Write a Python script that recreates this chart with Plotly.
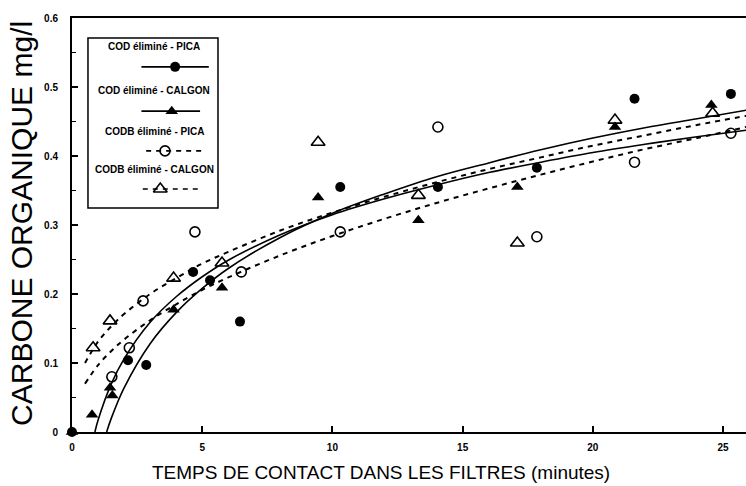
import plotly.graph_objects as go

# ---------------- data ----------------
# measured points
cod_pica_x = [0, 2.15, 2.85, 4.65, 5.3, 6.45, 10.3, 14.05, 17.85, 21.6, 25.3]
cod_pica_y = [0, 0.104, 0.097, 0.232, 0.22, 0.16, 0.355, 0.355, 0.383, 0.483, 0.49]

cod_calgon_x = [0, 0.77, 1.46, 1.55, 3.9, 5.76, 9.45, 13.3, 17.1, 20.85, 24.55]
cod_calgon_y = [0, 0.025, 0.064, 0.053, 0.177, 0.209, 0.34, 0.307, 0.355, 0.442, 0.474]

codb_pica_x = [1.53, 2.2, 2.73, 4.72, 6.5, 10.3, 14.05, 17.85, 21.6, 25.3]
codb_pica_y = [0.08, 0.122, 0.19, 0.29, 0.232, 0.29, 0.442, 0.283, 0.391, 0.433]

codb_calgon_x = [0.81, 1.46, 3.9, 5.76, 9.45, 13.3, 17.1, 20.85, 24.6]
codb_calgon_y = [0.122, 0.161, 0.223, 0.245, 0.42, 0.343, 0.274, 0.452, 0.462]

# fitted curves at sample abscissae
fit_pica_x = [1.33, 1.5, 2, 3, 4, 5, 6, 8, 10, 12, 14, 16, 18, 20, 22, 24, 26]
fit_pica_y = [0, 0.019, 0.064, 0.128, 0.173, 0.208, 0.237, 0.282, 0.317, 0.345,
              0.370, 0.390, 0.409, 0.426, 0.441, 0.454, 0.467]

fit_calgon_x = [0.88, 1, 1.5, 2, 3, 4, 5, 6, 8, 10, 12, 14, 16, 18, 20, 22, 24, 26]
fit_calgon_y = [0, 0.017, 0.069, 0.106, 0.159, 0.196, 0.225, 0.249, 0.286, 0.315,
                0.338, 0.358, 0.376, 0.391, 0.405, 0.417, 0.428, 0.438]

fitb_pica_x = [0.5, 1, 1.5, 2, 3, 4, 5, 6, 8, 10, 12, 14, 16, 18, 20, 22, 24, 26]
fitb_pica_y = [0.070, 0.097, 0.117, 0.134, 0.162, 0.185, 0.206, 0.224, 0.256, 0.284,
               0.309, 0.332, 0.353, 0.373, 0.392, 0.410, 0.426, 0.443]

fitb_calgon_x = [0.5, 1, 1.5, 2, 3, 4, 5, 6, 8, 10, 12, 14, 16, 18, 20, 22, 24, 26]
fitb_calgon_y = [0.100, 0.131, 0.153, 0.171, 0.200, 0.223, 0.244, 0.261, 0.292, 0.318,
                 0.341, 0.362, 0.381, 0.398, 0.415, 0.430, 0.445, 0.459]

x_ticks = [0, 5, 10, 15, 20, 25]
x_tick_labels = ["0", "5", "10", "15", "20", "25"]
y_ticks = [0, 0.1, 0.2, 0.3, 0.4, 0.5, 0.6]
y_tick_labels = ["0", "0.1", "0.2", "0.3", "0.4", "0.5", "0.6"]

legend_labels = ["COD éliminé - PICA", "COD éliminé - CALGON",
                 "CODB éliminé - PICA", "CODB éliminé - CALGON"]

x_title = "TEMPS DE CONTACT DANS LES FILTRES (minutes)"
y_title = "CARBONE ORGANIQUE mg/l"

# ---------------- figure ----------------
FONT = "Liberation Sans, Arial, sans-serif"
fig = go.Figure()

solid = dict(color="black", width=1.6)
dashed = dict(color="black", width=2, dash="5px,5px")

fig.add_trace(go.Scatter(x=fit_pica_x, y=fit_pica_y, mode="lines", line=solid, line_shape="spline"))
fig.add_trace(go.Scatter(x=fit_calgon_x, y=fit_calgon_y, mode="lines", line=solid, line_shape="spline"))
fig.add_trace(go.Scatter(x=fitb_pica_x, y=fitb_pica_y, mode="lines", line=dashed, line_shape="spline"))
fig.add_trace(go.Scatter(x=fitb_calgon_x, y=fitb_calgon_y, mode="lines", line=dashed, line_shape="spline"))

mk_fc = dict(symbol="circle", size=10, color="black")
mk_ft = dict(symbol="triangle-up", size=11, color="black")
mk_oc = dict(symbol="circle-open", size=10, color="black", line=dict(width=1.6, color="black"))
mk_ot = dict(symbol="triangle-up-open", size=12, color="black", line=dict(width=1.6, color="black"))

fig.add_trace(go.Scatter(x=codb_pica_x, y=codb_pica_y, mode="markers", marker=mk_oc, cliponaxis=False))
fig.add_trace(go.Scatter(x=codb_calgon_x, y=codb_calgon_y, mode="markers", marker=mk_ot, cliponaxis=False))
fig.add_trace(go.Scatter(x=cod_pica_x, y=cod_pica_y, mode="markers", marker=mk_fc, cliponaxis=False))
fig.add_trace(go.Scatter(x=cod_calgon_x, y=cod_calgon_y, mode="markers", marker=mk_ft, cliponaxis=False))

# ---- custom legend (text above a line/symbol sample), on a hidden 0..1 overlay axis ----
leg_text_y = [0.930, 0.826, 0.725, 0.633]
leg_sample_y = [0.882, 0.775, 0.679, 0.587]
leg_line_x = [(0.103, 0.203), (0.103, 0.190), (0.110, 0.195), (0.105, 0.190)]
leg_mark_x = [0.153, 0.148, 0.138, 0.131]
leg_markers = [mk_fc, mk_ft, mk_oc, mk_ot]
leg_dash = ["solid", "solid", "5px,5px", "5px,5px"]

for i in range(4):
    x0, x1 = leg_line_x[i]
    fig.add_trace(go.Scatter(x=[x0, x1], y=[leg_sample_y[i]] * 2, mode="lines",
                             line=dict(color="black", width=1.6, dash=leg_dash[i]),
                             xaxis="x2", yaxis="y2"))
    fig.add_trace(go.Scatter(x=[leg_mark_x[i]], y=[leg_sample_y[i]], mode="markers",
                             marker=leg_markers[i], xaxis="x2", yaxis="y2"))

shapes = [dict(type="rect", xref="paper", yref="paper", x0=0.0237, x1=0.2166, y0=0.541, y1=0.9517,
               line=dict(color="black", width=1.5), fillcolor="rgba(0,0,0,0)", layer="below")]

annotations = []
for i, lab in enumerate(legend_labels):
    annotations.append(dict(xref="paper", yref="paper", x=0.122, y=leg_text_y[i], text=lab,
                            showarrow=False, xanchor="center", yanchor="middle",
                            font=dict(family=FONT, size=10, color="black", weight="bold")))
annotations.append(dict(xref="paper", yref="paper", x=0.4585, y=-0.097, text=x_title,
                        showarrow=False, xanchor="center", yanchor="middle",
                        font=dict(family=FONT, size=19, color="black")))
annotations.append(dict(xref="paper", yref="paper", x=-0.0742, y=0.505, text=y_title,
                        textangle=-90, showarrow=False, xanchor="center", yanchor="middle",
                        font=dict(family=FONT, size=30, color="black")))

fig.update_layout(
    width=746, height=486,
    margin=dict(l=72, r=0, t=18, b=54, autoexpand=False),
    paper_bgcolor="white", plot_bgcolor="white",
    showlegend=False, hovermode=False,
    shapes=shapes, annotations=annotations,
    font=dict(family=FONT, color="black"),
    xaxis=dict(range=[0, 25.88], tickvals=x_ticks, ticktext=x_tick_labels,
               ticks="inside", ticklen=6, tickwidth=1.5, tickcolor="black",
               showline=True, linecolor="black", linewidth=2, mirror=True,
               showgrid=False, zeroline=False, ticklabelstandoff=5, automargin=False,
               tickfont=dict(family=FONT, size=10, color="black", weight="bold")),
    yaxis=dict(range=[0, 0.6], tickvals=y_ticks, ticktext=y_tick_labels,
               ticks="inside", ticklen=6, tickwidth=1.5, tickcolor="black",
               minor=dict(ticks="inside", dtick=0.05, ticklen=4, tickwidth=1, tickcolor="black"),
               showline=True, linecolor="black", linewidth=2,
               showgrid=False, zeroline=False, ticklabelstandoff=10, automargin=False,
               tickfont=dict(family=FONT, size=10, color="black", weight="bold")),
    xaxis2=dict(overlaying="x", range=[0, 1], visible=False, fixedrange=True),
    yaxis2=dict(overlaying="y", range=[0, 1], visible=False, fixedrange=True),
)

fig.write_html("out.html", config={"displayModeBar": False},
               post_script="document.body.style.margin='0';document.body.style.overflow='hidden';")
